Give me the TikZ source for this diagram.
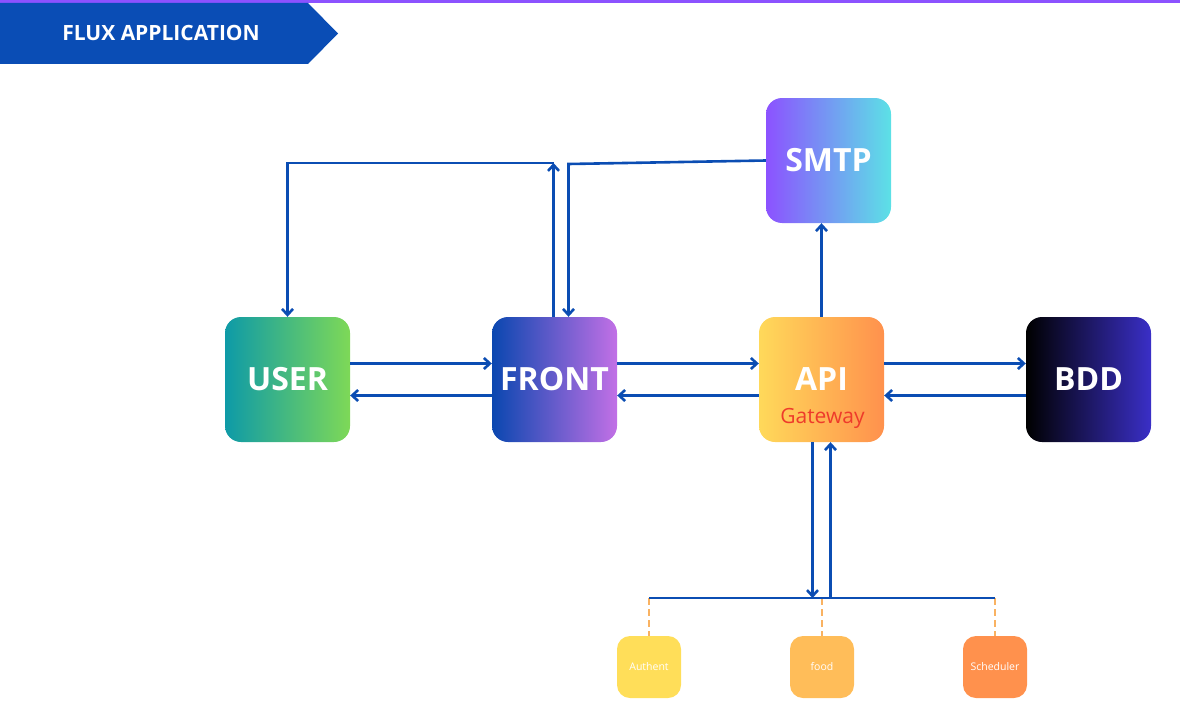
\documentclass[tikz,border=0pt]{standalone}
\usepackage{fontspec}
\setmainfont{Open Sans}
\usepackage{tikz}
\usetikzlibrary{arrows.meta, calc}

\definecolor{fluxblue}{HTML}{0B4DB3}
\definecolor{bannerblue}{HTML}{0A4DB5}
\definecolor{topviolet}{HTML}{8C52FF}
\definecolor{userA}{HTML}{0E9AA7}
\definecolor{userB}{HTML}{7ED957}
\definecolor{frontA}{HTML}{0A47B0}
\definecolor{frontB}{HTML}{C270E6}
\definecolor{apiA}{HTML}{FFD95A}
\definecolor{apiB}{HTML}{FF914D}
\definecolor{bddA}{HTML}{000000}
\definecolor{bddB}{HTML}{3A2FC7}
\definecolor{smtpA}{HTML}{8C52FF}
\definecolor{smtpB}{HTML}{5CE1E6}
\definecolor{authentcol}{HTML}{FFDE59}
\definecolor{foodcol}{HTML}{FFBD59}
\definecolor{schedcol}{HTML}{FF914D}
\definecolor{gatewayred}{HTML}{EE3B2B}
\definecolor{dashorange}{HTML}{F9B262}

\tikzset{
  box/.style = {rounded corners=16pt, minimum width=125pt, minimum height=125pt,
    inner sep=0pt, text=white, font=\fontsize{32}{36}\selectfont\bfseries},
  service/.style = {rounded corners=13pt, minimum width=64pt, minimum height=62pt,
    inner sep=0pt, text=white, font=\fontsize{10.5}{12}\selectfont},
  link/.style = {draw=fluxblue, line width=2.6pt, -{Straight Barb[length=6pt,width=11pt]}},
  busline/.style = {draw=fluxblue, line width=2.8pt},
  dashlink/.style = {draw=dashorange, line width=2.4pt, dash pattern=on 7pt off 4pt},
}

\begin{document}
\begin{tikzpicture}[x=1pt, y=-1pt]
  \useasboundingbox (0,0) rectangle (1180,717);

  % header
  \fill[topviolet] (0,0) rectangle (1180,3);
  \fill[bannerblue] (0,3) -- (308,3) -- (338,33.5) -- (308,64) -- (0,64) -- cycle;
  \node[text=white, font=\fontsize{21}{24}\selectfont\bfseries] (title) at (161,33) {FLUX APPLICATION};

  % main blocks
  \node[box, left color=userA, right color=userB] (user) at (287.5,379.5) {USER};
  \node[box, left color=frontA, right color=frontB] (front) at (554.5,379.5) {FRONT};
  \node[box, left color=apiA, right color=apiB] (api) at (821.5,379.5) {API};
  \node[text=gatewayred, font=\fontsize{21}{24}\selectfont] (gateway) at ($(api.center)+(1,39)$) {Gateway};
  \node[box, left color=bddA, right color=bddB] (bdd) at (1088.5,379.5) {BDD};
  \node[box, left color=smtpA, right color=smtpB] (smtp) at (828.5,160.5) {SMTP};

  % services
  \node[service, fill=authentcol] (authent) at (649,667) {Authent};
  \node[service, fill=foodcol] (food) at (822,667) {food};
  \node[service, fill=schedcol] (sched) at (995,667) {Scheduler};

  \coordinate (top) at (0,163);
  \coordinate (bus) at (0,598);

  % horizontal flows
  \draw[link] ($(user.east)+(0,-16)$) -- ($(front.west)+(0,-16)$);
  \draw[link] ($(front.west)+(0,16)$) -- ($(user.east)+(0,16)$);
  \draw[link] ($(front.east)+(0,-16)$) -- ($(api.west)+(0,-16)$);
  \draw[link] ($(api.west)+(0,16)$) -- ($(front.east)+(0,16)$);
  \draw[link] ($(api.east)+(0,-16)$) -- ($(bdd.west)+(0,-16)$);
  \draw[link] ($(bdd.west)+(0,16)$) -- ($(api.east)+(0,16)$);

  % loops over the top
  \draw[link] ($(front.north)+(-1,0)$) -- ($(front.north |- top)+(-1,0)$);
  \draw[link] ($(front.north |- top)+(-1,0)$) -| (user.north);
  \draw[link] (smtp.west) -- ($(front.north |- top)+(14,1)$) -- ($(front.north)+(14,0)$);
  \draw[link] (api.north) -- (api.north |- smtp.south);

  % services bus
  \draw[dashlink] (authent.north |- bus) -- (authent.north);
  \draw[dashlink] (food.north |- bus) -- (food.north);
  \draw[dashlink] (sched.north |- bus) -- (sched.north);
  \draw[busline] (authent.north |- bus) -- (sched.north |- bus);
  \draw[link] ($(api.south)+(-9,0)$) -- ($(api.south |- bus)+(-9,0)$);
  \draw[link] ($(api.south |- bus)+(9,0)$) -- ($(api.south)+(9,0)$);
\end{tikzpicture}
\end{document}
